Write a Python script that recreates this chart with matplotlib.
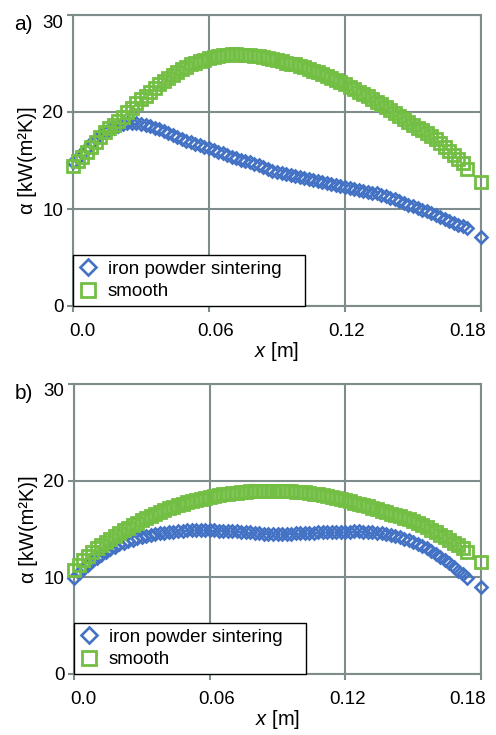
import numpy as np
import matplotlib
matplotlib.use("Agg")
import matplotlib.pyplot as plt
from matplotlib.transforms import ScaledTranslation

plt.rcParams['font.family'] = ['Liberation Sans', 'DejaVu Sans']
plt.rcParams['mathtext.fontset'] = 'custom'
plt.rcParams['mathtext.rm'] = 'Liberation Sans'
plt.rcParams['mathtext.it'] = 'Liberation Sans:italic'

# sampling positions along the channel [m]
x_pos = list(np.round(np.arange(0, 0.1741, 0.002), 3)) + [0.18]

# panel a)
a_iron = [14.8, 15.3, 15.8, 16.3, 16.8, 17.2, 17.6, 17.9, 18.2, 18.4,
          18.6, 18.8, 18.9, 18.9, 18.9, 18.8, 18.7, 18.6, 18.4, 18.2,
          18.0, 17.8, 17.6, 17.4, 17.2, 17.0, 16.9, 16.7, 16.6, 16.4,
          16.3, 16.1, 15.9, 15.8, 15.6, 15.4, 15.3, 15.1, 14.9, 14.8,
          14.6, 14.5, 14.3, 14.1, 13.9, 13.8, 13.7, 13.6, 13.5, 13.4,
          13.3, 13.2, 13.1, 13.0, 12.9, 12.8, 12.7, 12.6, 12.5, 12.4,
          12.3, 12.2, 12.1, 12.0, 11.9, 11.8, 11.7, 11.6, 11.4, 11.3,
          11.1, 11.0, 10.8, 10.6, 10.4, 10.3, 10.1, 9.9, 9.8, 9.6,
          9.4, 9.2, 9.0, 8.8, 8.6, 8.4, 8.2, 8.0,
          7.1]
a_smooth = [14.4, 14.9, 15.4, 15.9, 16.4, 16.9, 17.4, 17.9, 18.3, 18.7,
            19.1, 19.5, 20.0, 20.4, 20.9, 21.3, 21.7, 22.1, 22.5, 22.9,
            23.2, 23.5, 23.8, 24.1, 24.4, 24.6, 24.9, 25.1, 25.3, 25.4,
            25.6, 25.7, 25.8, 25.9, 25.9, 26.0, 26.0, 25.9, 25.9, 25.9,
            25.8, 25.8, 25.7, 25.6, 25.5, 25.4, 25.3, 25.1, 25.0, 24.9,
            24.7, 24.6, 24.4, 24.2, 24.1, 23.9, 23.7, 23.5, 23.3, 23.1,
            22.9, 22.6, 22.4, 22.1, 21.9, 21.6, 21.3, 21.0, 20.8, 20.5,
            20.2, 19.9, 19.6, 19.3, 19.0, 18.7, 18.4, 18.1, 17.8, 17.5,
            17.2, 16.8, 16.4, 16.0, 15.6, 15.2, 14.7, 14.1,
            12.8]

# panel b)
b_iron = [9.9, 10.4, 10.9, 11.3, 11.7, 12.0, 12.3, 12.6, 12.9, 13.1,
          13.4, 13.6, 13.8, 13.9, 14.1, 14.2, 14.3, 14.4, 14.5, 14.6,
          14.6, 14.7, 14.7, 14.8, 14.8, 14.9, 14.9, 14.9, 14.9, 14.9,
          14.9, 14.9, 14.8, 14.8, 14.8, 14.8, 14.8, 14.7, 14.7, 14.7,
          14.6, 14.6, 14.5, 14.5, 14.5, 14.5, 14.5, 14.5, 14.5, 14.6,
          14.6, 14.6, 14.6, 14.6, 14.7, 14.7, 14.7, 14.7, 14.7, 14.7,
          14.7, 14.7, 14.8, 14.8, 14.7, 14.7, 14.7, 14.6, 14.6, 14.5,
          14.4, 14.3, 14.2, 14.0, 13.9, 13.7, 13.5, 13.2, 13.0, 12.7,
          12.4, 12.1, 11.8, 11.5, 11.1, 10.7, 10.3, 9.9,
          9.0]
b_smooth = [10.8, 11.3, 11.8, 12.2, 12.6, 13.0, 13.3, 13.7, 14.0, 14.3,
            14.6, 14.9, 15.1, 15.4, 15.6, 15.9, 16.1, 16.3, 16.6, 16.8,
            17.0, 17.2, 17.3, 17.5, 17.6, 17.8, 17.9, 18.0, 18.1, 18.2,
            18.3, 18.4, 18.5, 18.6, 18.6, 18.7, 18.7, 18.8, 18.8, 18.9,
            18.9, 18.9, 18.9, 18.9, 18.9, 18.9, 18.9, 18.9, 18.9, 18.8,
            18.8, 18.8, 18.7, 18.6, 18.6, 18.5, 18.4, 18.3, 18.2, 18.1,
            18.0, 17.9, 17.7, 17.6, 17.5, 17.4, 17.2, 17.1, 16.9, 16.8,
            16.6, 16.5, 16.3, 16.1, 16.0, 15.8, 15.6, 15.4, 15.2, 14.9,
            14.7, 14.4, 14.2, 13.9, 13.6, 13.3, 13.0, 12.6,
            11.6]

series_labels = ["iron powder sintering", "smooth"]
panel_labels = ["a)", "b)"]
x_ticks = [0.0, 0.06, 0.12, 0.18]
x_ticklabels = ["0.0", "0.06", "0.12", "0.18"]
y_ticks = [0, 10, 20, 30]

BLUE = "#4472C4"
GREEN = "#72BF44"
GRID = "#7F8C8C"

W, H = 496, 735
fig = plt.figure(figsize=(W / 100, H / 100), dpi=100)

def px_axes(left, top, right, bottom):
    return fig.add_axes([left / W, 1 - bottom / H, (right - left) / W, (bottom - top) / H])

panels = [
    (px_axes(73, 15, 481, 306), a_iron, a_smooth),
    (px_axes(74, 384, 481, 674), b_iron, b_smooth),
]

x_offsets_px = [9, 7, 2, -13]

for i, (ax, iron, smooth) in enumerate(panels):
    ax.plot(x_pos, iron, linestyle='none', marker='D', markersize=6.6,
            markerfacecolor='none', markeredgecolor=BLUE, markeredgewidth=1.9,
            clip_on=False, label=series_labels[0], zorder=3)
    ax.plot(x_pos, smooth, linestyle='none', marker='s', markersize=8.2,
            markerfacecolor='none', markeredgecolor=GREEN, markeredgewidth=2.0,
            clip_on=False, label=series_labels[1], zorder=4)
    ax.set_xlim(0, 0.18)
    ax.set_ylim(0, 30)
    ax.set_xticks(x_ticks)
    ax.set_xticklabels(x_ticklabels)
    ax.set_yticks(y_ticks)
    ax.grid(True, color=GRID, linewidth=1.5, zorder=0)
    ax.set_axisbelow(True)
    for s in ax.spines.values():
        s.set_color(GRID)
        s.set_linewidth(1.5)
    ax.tick_params(axis='both', colors=GRID, labelcolor='black', labelsize=13.5,
                   width=1.5, length=4)
    ax.tick_params(axis='x', pad=8)
    ax.tick_params(axis='y', pad=3)
    for lbl, dx in zip(ax.get_xticklabels(), x_offsets_px):
        lbl.set_transform(lbl.get_transform() + ScaledTranslation(dx / 100, 0, fig.dpi_scale_trans))
    ylbls = ax.get_yticklabels()
    ylbls[-1].set_transform(ylbls[-1].get_transform() + ScaledTranslation(0, -6 / 100, fig.dpi_scale_trans))
    ax.set_xlabel("$x$ [m]", fontsize=14.5, labelpad=0)
    ax.set_ylabel("α [kW(m²K)]", fontsize=14.5)
    ax.yaxis.set_label_coords(-0.088, 0.5)
    leg = ax.legend(loc='lower left', bbox_to_anchor=(0, 0, 0.569, 0.19), mode='expand',
                    borderaxespad=0, fontsize=13.5, frameon=True,
                    fancybox=False, edgecolor='black', handlelength=1.0,
                    handletextpad=0.55, borderpad=0.3, labelspacing=0.3,
                    markerscale=1.25, framealpha=1)
    leg.get_frame().set_linewidth(1.0)
    ax.text(-0.10, 1.0, panel_labels[i], transform=ax.transAxes, fontsize=15,
            ha='right', va='top')

fig.savefig("out.png", dpi=100)
